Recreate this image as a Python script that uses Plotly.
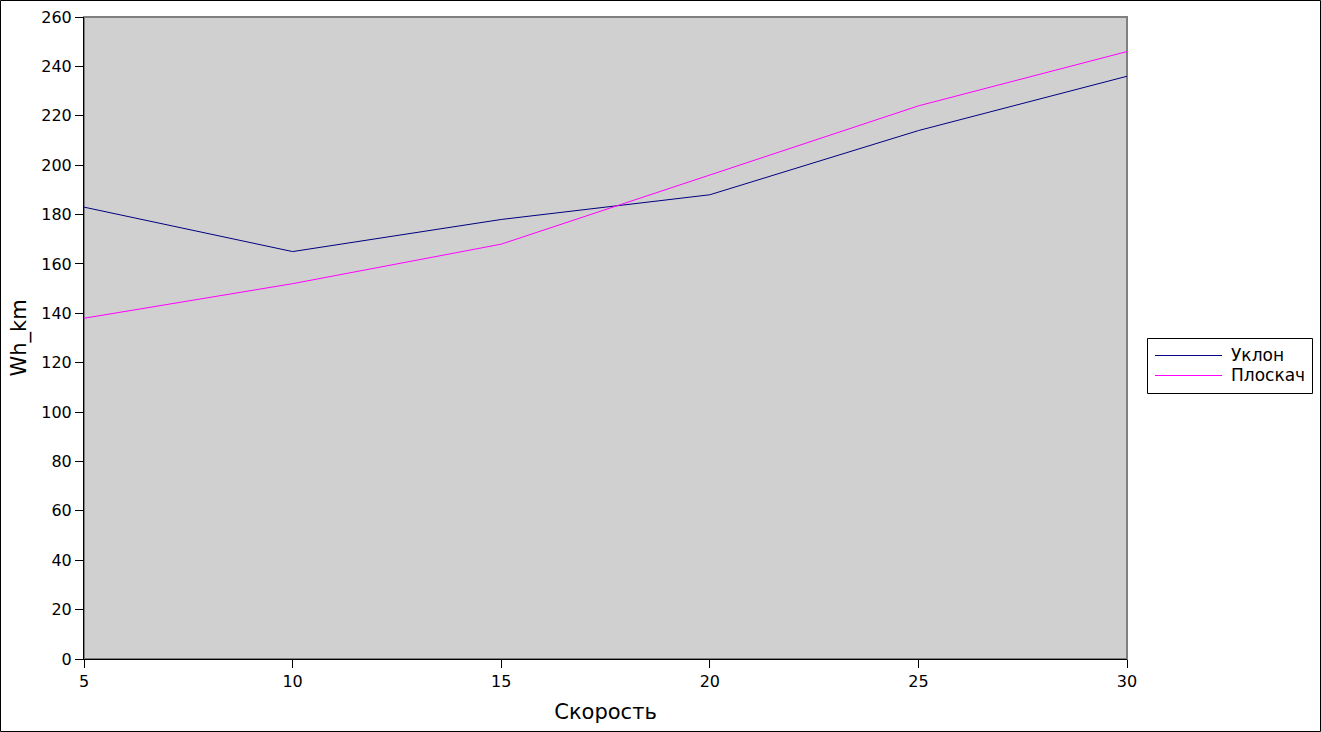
import plotly.graph_objects as go

speed = [5, 10, 15, 20, 25, 30]
uklon = [183, 165, 178, 188, 214, 236]
ploskach = [138, 152, 168, 196, 224, 246]
series_names = ["Уклон", "Плоскач"]
series_colors = ["#000080", "#ff00ff"]

W, H = 1321, 732
L, R, T, B = 84, 194, 17, 73
pw, ph = W - L - R, H - T - B


def px(x):
    return (x - L) / pw


def py(y):
    return (H - B - y) / ph


fig = go.Figure()
for name, vals, col in zip(series_names, [uklon, ploskach], series_colors):
    fig.add_trace(go.Scatter(x=speed, y=vals, mode="lines", name=name,
                             line=dict(color=col, width=1)))

font = "DejaVu Sans, sans-serif"
shapes = [
    dict(type="rect", xref="paper", yref="paper", x0=0, x1=1, y0=0, y1=1,
         line=dict(color="#808080", width=2), layer="below"),
    dict(type="rect", xref="paper", yref="paper",
         x0=px(0.5), x1=px(W - 0.5), y0=py(H - 0.5), y1=py(0.5),
         line=dict(color="black", width=1), layer="above"),
    # legend box
    dict(type="rect", xref="paper", yref="paper",
         x0=px(1147.5), x1=px(1312.5), y0=py(393.5), y1=py(338.5),
         line=dict(color="black", width=1), fillcolor="white", layer="above"),
]
annotations = []
for i, (name, col) in enumerate(zip(series_names, series_colors)):
    yy = 355.5 + 20 * i
    shapes.append(dict(type="line", xref="paper", yref="paper",
                       x0=px(1155), x1=px(1222), y0=py(yy), y1=py(yy),
                       line=dict(color=col, width=1), layer="above"))
    annotations.append(dict(text=name, xref="paper", yref="paper",
                            x=px(1229), y=py(yy), xanchor="left", yanchor="middle",
                            showarrow=False, font=dict(size=17, family=font, color="black")))

fig.update_layout(
    width=W, height=H,
    margin=dict(l=L, r=R, t=T, b=B, pad=0, autoexpand=False),
    paper_bgcolor="white",
    plot_bgcolor="#d0d0d0",
    font=dict(family=font, size=16, color="black"),
    showlegend=False,
    xaxis=dict(range=[5, 30], tickvals=speed, showgrid=False, zeroline=False,
               automargin=False,
               showline=True, linecolor="black", linewidth=1,
               ticks="outside", ticklen=8, tickcolor="black",
               title=dict(text="Скорость", font=dict(size=21), standoff=14)),
    yaxis=dict(range=[0, 260], dtick=20, showgrid=False, zeroline=False,
               automargin=False,
               showline=True, linecolor="black", linewidth=1,
               ticks="outside", ticklen=8, tickcolor="black",
               title=dict(text="Wh_km", font=dict(size=21), standoff=8)),
    shapes=shapes,
    annotations=annotations,
)

post = (
    "document.body.style.margin='0';"
    "document.body.style.padding='0';"
    "document.documentElement.style.overflow='hidden';"
    "var d=document.querySelector('.plotly-graph-div');"
    "d.style.position='absolute';d.style.top='0px';d.style.left='0px';"
)
fig.write_html("out.html", config={"displayModeBar": False}, post_script=post)
